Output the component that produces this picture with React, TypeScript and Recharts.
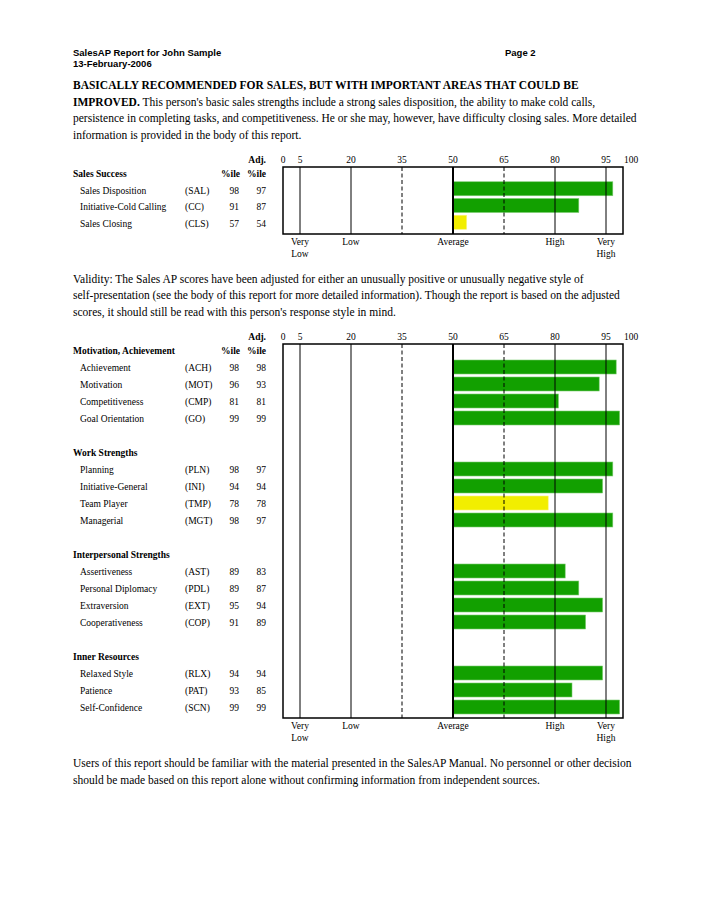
import React from 'react';
import { BarChart, Bar, XAxis, YAxis, Cell, ReferenceLine, ReferenceArea } from 'recharts';

const SERIF = '"Liberation Serif", "Times New Roman", serif';
const SANS = '"Liberation Sans", Arial, sans-serif';

// scale
const scaleTicks = [0, 5, 20, 35, 50, 65, 80, 95, 100];
const bandValues = [5, 20, 50, 80, 95];
const bandLabels = [['Very', 'Low'], ['Low'], ['Average'], ['High'], ['Very', 'High']];
const dashedLines = [35, 65];
const BASE = 50;

// Sales Success
const salesNames = ['Sales Disposition', 'Initiative-Cold Calling', 'Sales Closing'];
const salesCodes = ['SAL', 'CC', 'CLS'];
const salesPct = [98, 91, 57];
const salesAdj = [97, 87, 54];

// Motivation, Achievement
const motivationNames = ['Achievement', 'Motivation', 'Competitiveness', 'Goal Orientation'];
const motivationCodes = ['ACH', 'MOT', 'CMP', 'GO'];
const motivationPct = [98, 96, 81, 99];
const motivationAdj = [98, 93, 81, 99];

// Work Strengths
const workNames = ['Planning', 'Initiative-General', 'Team Player', 'Managerial'];
const workCodes = ['PLN', 'INI', 'TMP', 'MGT'];
const workPct = [98, 94, 78, 98];
const workAdj = [97, 94, 78, 97];

// Interpersonal Strengths
const interNames = ['Assertiveness', 'Personal Diplomacy', 'Extraversion', 'Cooperativeness'];
const interCodes = ['AST', 'PDL', 'EXT', 'COP'];
const interPct = [89, 89, 95, 91];
const interAdj = [83, 87, 94, 89];

// Inner Resources
const innerNames = ['Relaxed Style', 'Patience', 'Self-Confidence'];
const innerCodes = ['RLX', 'PAT', 'SCN'];
const innerPct = [94, 93, 99];
const innerAdj = [94, 85, 99];

const GREEN = '#12a000';
const YELLOW = '#f2ee00';

type Row = {
  key: string;
  kind: 'header' | 'item' | 'blank';
  name?: string;
  code?: string;
  pct?: number;
  adj?: number;
  range: [number, number] | null;
  pctHeader?: boolean;
};

function section(title: string, names: string[], codes: string[], pct: number[], adj: number[], pctHeader: boolean, blankAfter: boolean): Row[] {
  const rows: Row[] = [{ key: 'h-' + title, kind: 'header', name: title, range: null, pctHeader }];
  names.forEach((n, i) => {
    rows.push({ key: codes[i], kind: 'item', name: n, code: codes[i], pct: pct[i], adj: adj[i], range: [BASE, adj[i]] });
  });
  if (blankAfter) rows.push({ key: 'b-' + title, kind: 'blank', range: null });
  return rows;
}

const chart1Rows = section('Sales Success', salesNames, salesCodes, salesPct, salesAdj, true, false);
const chart2Rows = [
  ...section('Motivation, Achievement', motivationNames, motivationCodes, motivationPct, motivationAdj, true, true),
  ...section('Work Strengths', workNames, workCodes, workPct, workAdj, false, true),
  ...section('Interpersonal Strengths', interNames, interCodes, interPct, interAdj, false, true),
  ...section('Inner Resources', innerNames, innerCodes, innerPct, innerAdj, false, false),
];

const RowTick = (rows: Row[]) => (props: any) => {
  const { y, payload } = props;
  const row = rows.find((r) => r.key === payload.value);
  if (!row || row.kind === 'blank') return <g />;
  const ty = y + 1.5;
  if (row.kind === 'header') {
    return (
      <g fontFamily={SERIF} fontSize={9.5} fill="#000" fontWeight="bold">
        <text x={73} y={ty}>{row.name}</text>
        {row.pctHeader && (
          <>
            <text x={240} y={ty} textAnchor="end">%ile</text>
            <text x={266} y={ty} textAnchor="end">%ile</text>
            <text x={266} y={ty - 14} textAnchor="end">Adj.</text>
          </>
        )}
      </g>
    );
  }
  return (
    <g fontFamily={SERIF} fontSize={9.5} fill="#000">
      <text x={80} y={ty}>{row.name}</text>
      <text x={185} y={ty}>({row.code})</text>
      <text x={239} y={ty} textAnchor="end">{row.pct}</text>
      <text x={266} y={ty} textAnchor="end">{row.adj}</text>
    </g>
  );
};

const TopTick = (props: any) => {
  const { x, y, payload } = props;
  const last = payload.value === 100;
  return (
    <text x={last ? x + 1 : x} y={y - 4} textAnchor={last ? 'start' : 'middle'} fontFamily={SERIF} fontSize={9.5} fill="#000">
      {payload.value}
    </text>
  );
};

const bandLabel = (lines: string[]) => (props: any) => {
  const vb = props.viewBox || {};
  const x = vb.x;
  const bottom = (vb.y || 0) + (vb.height || 0);
  return (
    <g fontFamily={SERIF} fontSize={9.5} fill="#000">
      {lines.map((l, i) => (
        <text key={i} x={x} y={bottom + 10.5 + i * 12} textAnchor="middle">{l}</text>
      ))}
    </g>
  );
};

const BarShape = (props: any) => {
  const { x, y, width, height, fill, stroke } = props;
  if (!width || !height) return <g />;
  return <rect x={x} y={y - 3} width={width} height={height} fill={fill} stroke={stroke} strokeWidth={0.6} />;
};

function ScaleChart({ rows, plotHeight }: { rows: Row[]; plotHeight: number }) {
  return (
    <BarChart
      width={706}
      height={20 + plotHeight + 30}
      data={rows}
      layout="vertical"
      margin={{ top: 0, right: 83, bottom: 30, left: 0 }}
      barSize={14}
    >
      <XAxis xAxisId="top" orientation="top" type="number" domain={[0, 100]} ticks={scaleTicks}
        axisLine={false} tickLine={false} tickSize={0} tickMargin={0} height={20} tick={TopTick} interval={0} />
      <YAxis type="category" dataKey="key" width={283} axisLine={false} tickLine={false} tick={RowTick(rows)} interval={0} />
      <Bar dataKey="range" xAxisId="top" isAnimationActive={false} shape={BarShape}>
        {rows.map((r, i) => (
          <Cell key={i} fill={r.adj !== undefined && r.adj < 80 ? YELLOW : GREEN}
            stroke={r.adj !== undefined && r.adj < 80 ? '#f7f47a' : '#7ccc70'} />
        ))}
      </Bar>
      {dashedLines.map((v) => (
        <ReferenceLine key={v} x={v} xAxisId="top" stroke="#000" strokeWidth={1} strokeDasharray="4 2.5" />
      ))}
      {bandValues.map((v, i) => (
        <ReferenceLine key={'b' + v} x={v} xAxisId="top" stroke="#000" strokeWidth={v === BASE ? 2 : 1}
          label={{ content: bandLabel(bandLabels[i]) }} />
      ))}
      <ReferenceArea x1={0} x2={100} xAxisId="top" fill="none" stroke="#000" strokeWidth={1.5} />
    </BarChart>
  );
}

const para: React.CSSProperties = { position: 'absolute', left: 73, fontFamily: SERIF, fontSize: 11.5, lineHeight: '16.4px', whiteSpace: 'nowrap', color: '#000' };

export default function App() {
  return (
    <div style={{ position: 'absolute', left: 0, top: 0, width: 706, height: 919, background: '#fff' }}>
      <div style={{ position: 'absolute', left: 73, top: 47, fontFamily: SANS, fontSize: 9.5, fontWeight: 'bold', lineHeight: '11px' }}>
        <div>SalesAP Report for John Sample</div>
        <div>13-February-2006</div>
      </div>
      <div style={{ position: 'absolute', left: 505, top: 47, fontFamily: SANS, fontSize: 9.5, fontWeight: 'bold', lineHeight: '11px' }}>
        Page 2
      </div>
      <div style={{ ...para, top: 77, lineHeight: '16.6px' }}>
        <div><b>BASICALLY RECOMMENDED FOR SALES, BUT WITH IMPORTANT AREAS THAT COULD BE</b></div>
        <div><b>IMPROVED.</b> This person's basic sales strengths include a strong sales disposition, the ability to make cold calls,</div>
        <div>persistence in completing tasks, and competitiveness. He or she may, however, have difficulty closing sales. More detailed</div>
        <div>information is provided in the body of this report.</div>
      </div>
      <div style={{ position: 'absolute', left: 0, top: 147 }}>
        <ScaleChart rows={chart1Rows} plotHeight={67} />
      </div>
      <div style={{ ...para, top: 271 }}>
        <div>Validity: The Sales AP scores have been adjusted for either an unusually positive or unusually negative style of</div>
        <div>self-presentation (see the body of this report for more detailed information). Though the report is based on the adjusted</div>
        <div>scores, it should still be read with this person's response style in mind.</div>
      </div>
      <div style={{ position: 'absolute', left: 0, top: 324 }}>
        <ScaleChart rows={chart2Rows} plotHeight={374} />
      </div>
      <div style={{ ...para, top: 754.5, lineHeight: '17px' }}>
        <div>Users of this report should be familiar with the material presented in the SalesAP Manual. No personnel or other decision</div>
        <div>should be made based on this report alone without confirming information from independent sources.</div>
      </div>
    </div>
  );
}
